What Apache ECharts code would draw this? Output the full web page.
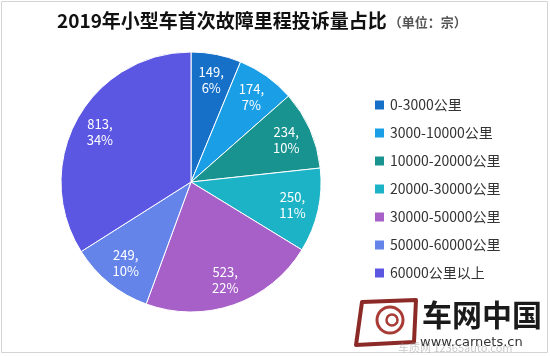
<!DOCTYPE html>
<html><head><meta charset="utf-8">
<script src="https://cdn.jsdelivr.net/npm/echarts@6/dist/echarts.min.js"></script>
<style>html,body{margin:0;padding:0;background:#fff}#c{width:550px;height:356px}</style>
</head><body><div id="c"></div>
<script>
const categories = ['0-3000公里','3000-10000公里','10000-20000公里','20000-30000公里','30000-50000公里','50000-60000公里','60000公里以上'];
const values = [149, 174, 234, 250, 523, 249, 813];
const colors = ['#1670c8','#1a9ee6','#189390','#1db3c6','#a660c8','#6584ea','#5b57e2'];
const titleMain = '2019年小型车首次故障里程投诉量占比';
const titleUnit = '（单位：宗）';

const font = '"Noto Sans CJK SC", "Microsoft YaHei", sans-serif';
const data = categories.map((n, i) => ({ name: n, value: values[i], itemStyle: { color: colors[i] } }));
const chart = echarts.init(document.getElementById('c'));
chart.setOption({
  animation: false,
  textStyle: { fontFamily: font },
  title: {
    text: '{a|' + titleMain + '}{b|' + titleUnit + '}',
    left: 52, top: 6,
    textStyle: { rich: {
      a: { fontSize: 19, fontWeight: 'bold', color: '#111', fontFamily: font },
      b: { fontSize: 13, color: '#555', fontFamily: font, padding: [4, 0, 0, 2] }
    } }
  },
  legend: {
    orient: 'vertical', left: 368, top: 93, itemGap: 14,
    itemWidth: 11, itemHeight: 11, icon: 'rect',
    textStyle: { fontSize: 14, color: '#333', fontFamily: font },
    data: categories
  },
  series: [{
    type: 'pie', center: [191, 182], radius: [0, 130],
    startAngle: 90, clockwise: true, percentPrecision: 0,
    label: { show: false }, labelLine: { show: false },
    itemStyle: { borderColor: '#fff', borderWidth: 1 },
    data: data
  }, {
    type: 'pie', center: [191, 182], radius: [72, 130],
    startAngle: 90, clockwise: true, percentPrecision: 0, silent: true,
    legendHoverLink: false,
    itemStyle: { color: 'rgba(0,0,0,0)' },
    label: { show: true, position: 'inside', formatter: '{c},\n{d}%', color: '#fff', fontSize: 13, lineHeight: 16, fontFamily: font },
    labelLine: { show: false },
    data: categories.map((n, i) => ({ name: n, value: values[i], itemStyle: { color: 'rgba(0,0,0,0)' } }))
  }],
  graphic: [
    { type: 'rect', shape: { x: 1.5, y: 1.5, width: 546, height: 351 }, style: { fill: null, stroke: '#d4d4d4', lineWidth: 1 }, silent: true },
    { type: 'polygon', shape: { points: [[362,302],[416,300],[414,342],[356,345]] }, style: { fill: null, stroke: '#8b2a26', lineWidth: 4, lineJoin: 'round' }, silent: true },
    { type: 'circle', shape: { cx: 390, cy: 320, r: 13 }, style: { fill: null, stroke: '#a83b35', lineWidth: 3 }, silent: true },
    { type: 'circle', shape: { cx: 392, cy: 320, r: 5.5 }, style: { fill: null, stroke: '#a83b35', lineWidth: 2.5 }, silent: true },
    { type: 'text', left: 422, top: 300, style: { text: '车网中国', font: 'bold 30px "Noto Sans CJK SC", sans-serif', fill: '#1a1a1a' } },
    { type: 'text', left: 420, top: 336, style: { text: 'www.carnets.cn', font: '13px "DejaVu Sans", sans-serif', fill: '#333' } },
    { type: 'text', left: 398, top: 342, style: { text: '车质网 12365auto.com', font: '11px "Noto Sans CJK SC", sans-serif', fill: 'rgba(150,150,150,0.5)' } }
  ]
});
</script></body></html>
